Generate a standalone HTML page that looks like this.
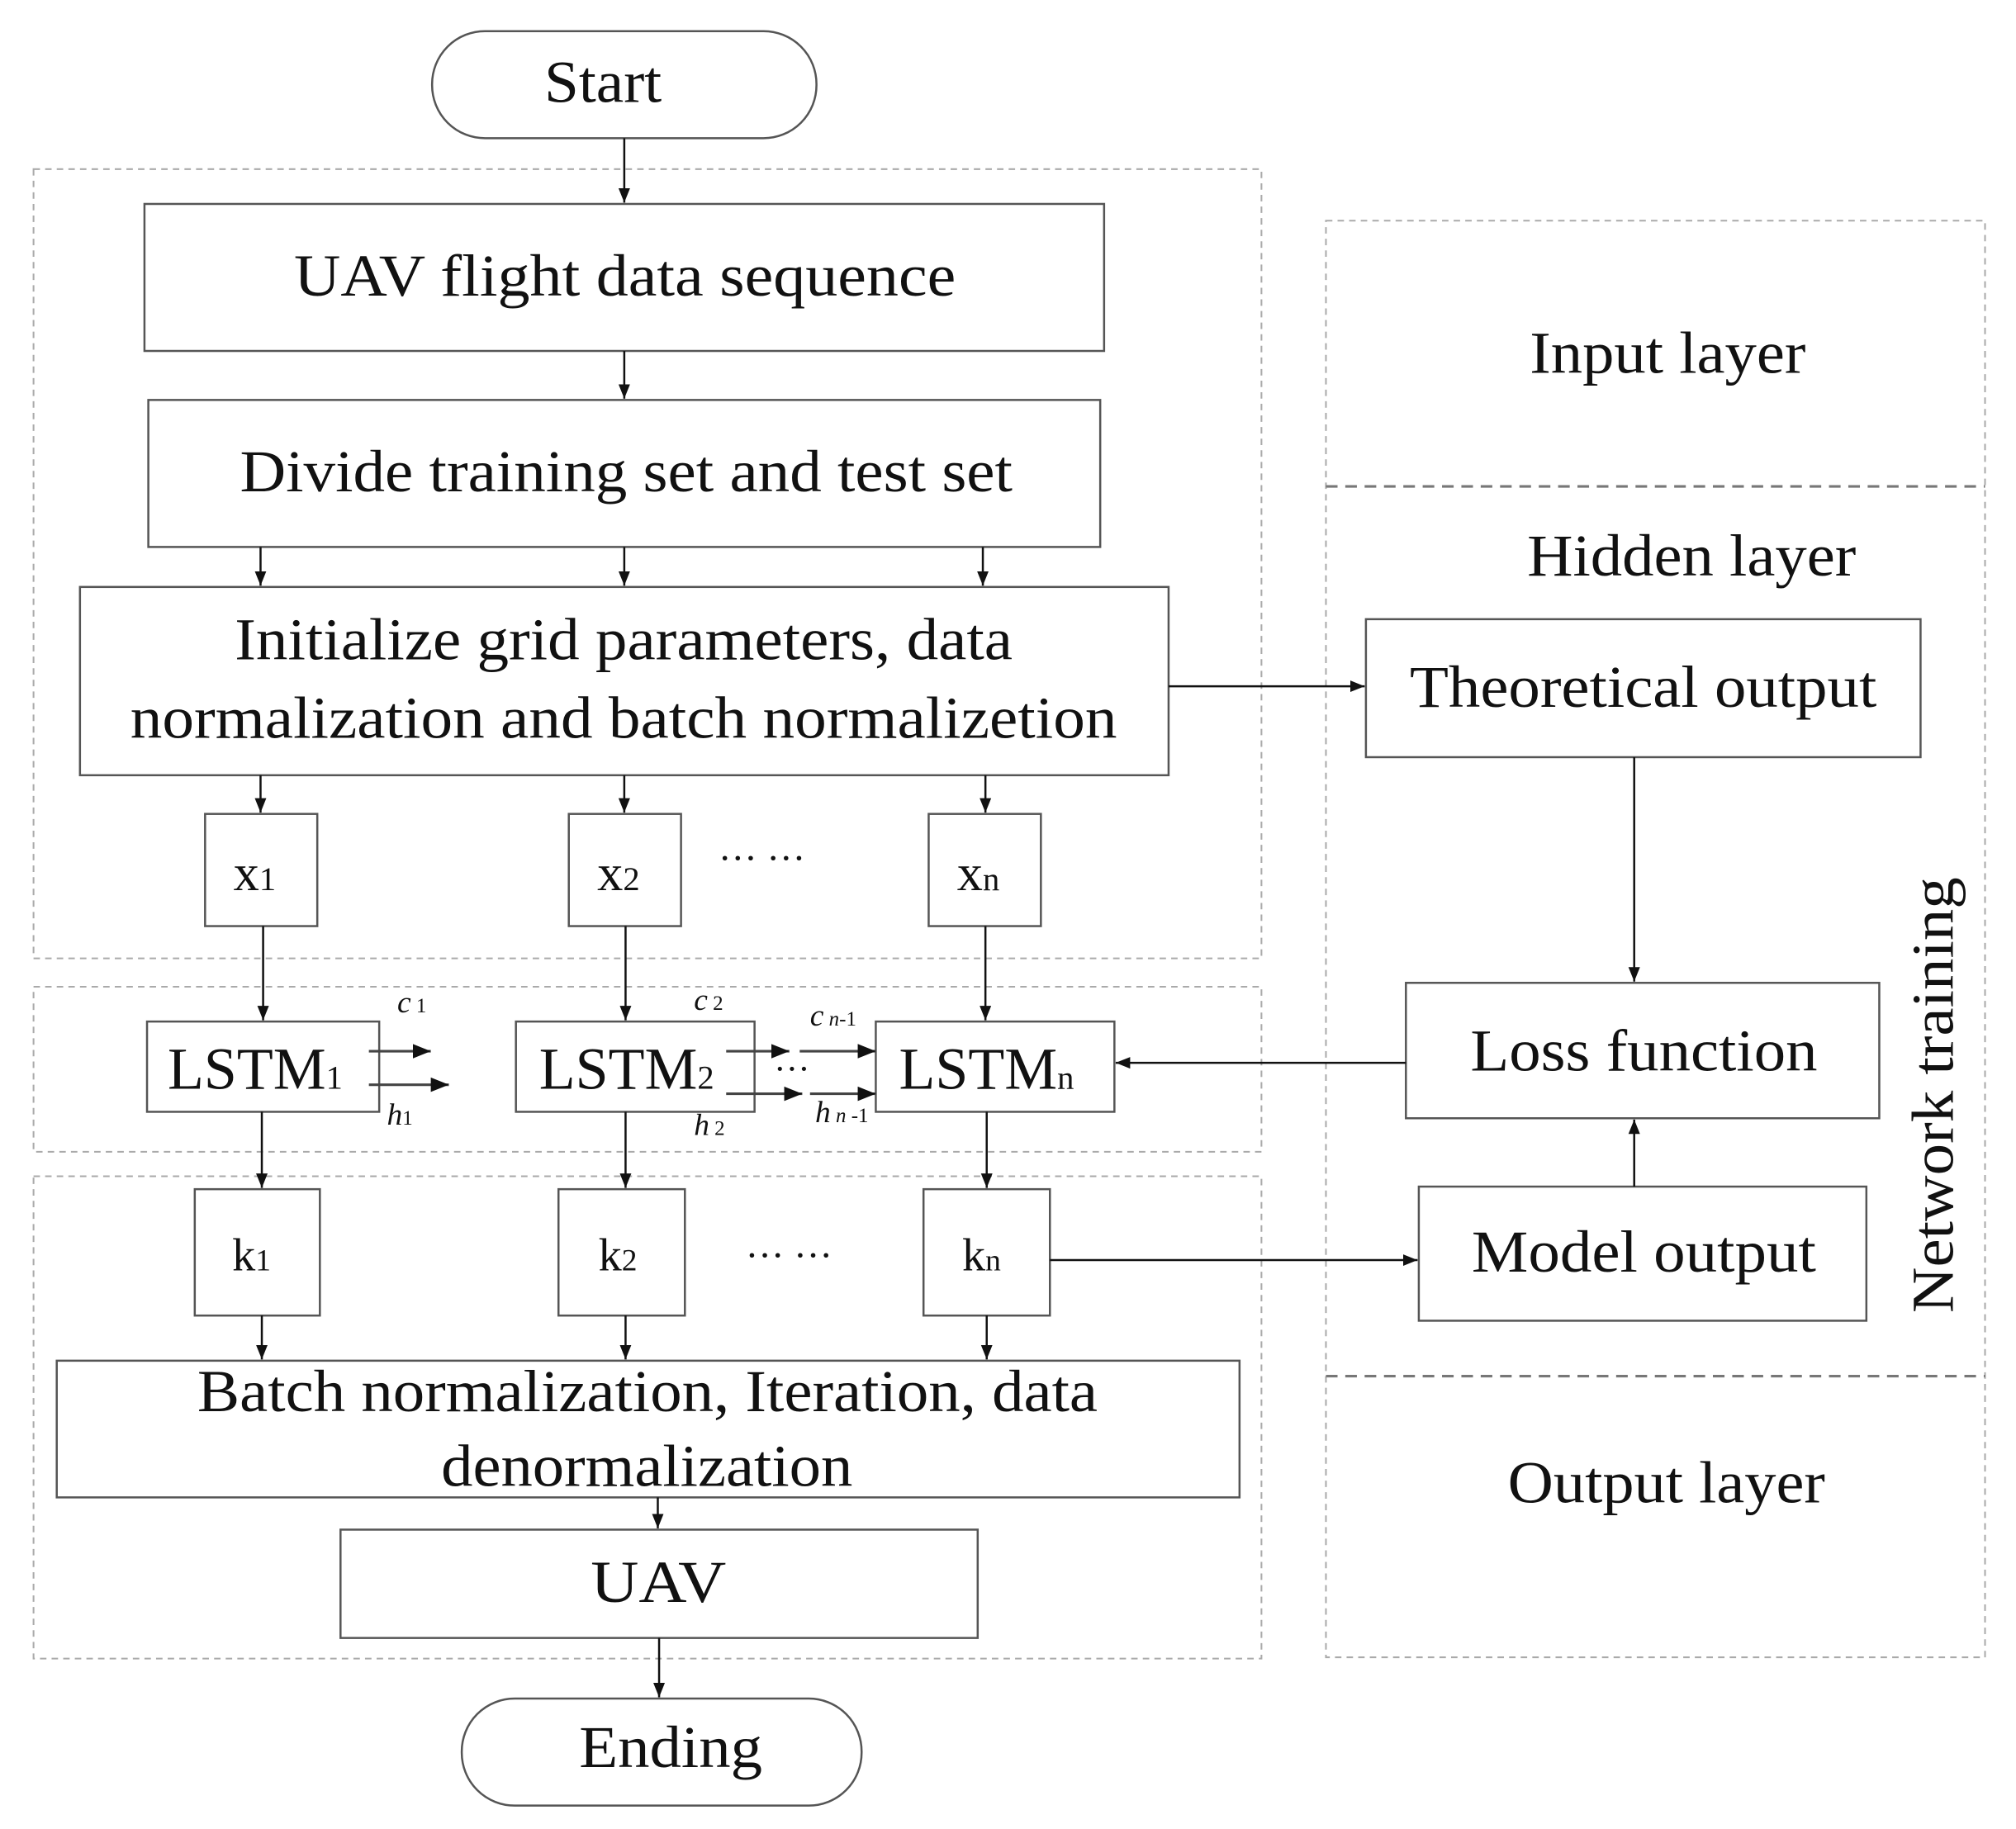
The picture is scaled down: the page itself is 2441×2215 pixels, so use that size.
<!DOCTYPE html>
<html><head><meta charset="utf-8"><style>
html,body{margin:0;padding:0;background:#fff;}
svg{display:block;}
text{font-family:"Liberation Serif",serif;fill:#111;}
</style></head><body>
<svg width="2441" height="2215" viewBox="0 0 1563 1418" xmlns="http://www.w3.org/2000/svg">
<defs>
<marker id="a" viewBox="0 0 10 10" refX="10" refY="5" markerWidth="7" markerHeight="7" orient="auto"><path d="M0,1 L10,5 L0,9 z" fill="#111"/></marker>
</defs>
<g fill="none" stroke="#aaa" stroke-width="1.3" stroke-dasharray="5,4">
<rect x="26" y="131" width="952" height="612"/>
<rect x="26" y="765" width="952" height="128"/>
<rect x="26" y="912" width="952" height="374"/>
<rect x="1028" y="171" width="511" height="1114"/>
</g>
<g stroke="#777" stroke-width="2" stroke-dasharray="9,6">
<line x1="1028" y1="377" x2="1539" y2="377"/>
<line x1="1028" y1="1067" x2="1539" y2="1067"/>
</g>
<g fill="#fff" stroke="#555" stroke-width="1.6">
<rect x="335" y="24" width="298" height="83" rx="41"/>
<rect x="112" y="158" width="744" height="114"/>
<rect x="115" y="310" width="738" height="114"/>
<rect x="62" y="455" width="844" height="146"/>
<rect x="159" y="631" width="87" height="87"/>
<rect x="441" y="631" width="87" height="87"/>
<rect x="720" y="631" width="87" height="87"/>
<rect x="114" y="792" width="180" height="70"/>
<rect x="400" y="792" width="185" height="70"/>
<rect x="679" y="792" width="185" height="70"/>
<rect x="151" y="922" width="97" height="98"/>
<rect x="433" y="922" width="98" height="98"/>
<rect x="716" y="922" width="98" height="98"/>
<rect x="44" y="1055" width="917" height="106"/>
<rect x="264" y="1186" width="494" height="84"/>
<rect x="358" y="1317" width="310" height="83" rx="41"/>
<rect x="1059" y="480" width="430" height="107"/>
<rect x="1090" y="762" width="367" height="105"/>
<rect x="1100" y="920" width="347" height="104"/>
</g>
<g stroke="#111" stroke-width="1.6" marker-end="url(#a)">
<line x1="484" y1="107" x2="484" y2="157"/>
<line x1="484" y1="272" x2="484" y2="309"/>
<line x1="202" y1="424" x2="202" y2="454"/>
<line x1="484" y1="424" x2="484" y2="454"/>
<line x1="762" y1="424" x2="762" y2="454"/>
<line x1="202" y1="601" x2="202" y2="630"/>
<line x1="484" y1="601" x2="484" y2="630"/>
<line x1="764" y1="601" x2="764" y2="630"/>
<line x1="204" y1="718" x2="204" y2="791"/>
<line x1="485" y1="718" x2="485" y2="791"/>
<line x1="764" y1="718" x2="764" y2="791"/>
<line x1="203" y1="862" x2="203" y2="921"/>
<line x1="485" y1="862" x2="485" y2="921"/>
<line x1="765" y1="862" x2="765" y2="921"/>
<line x1="203" y1="1020" x2="203" y2="1054"/>
<line x1="485" y1="1020" x2="485" y2="1054"/>
<line x1="765" y1="1020" x2="765" y2="1054"/>
<line x1="510" y1="1161" x2="510" y2="1185"/>
<line x1="511" y1="1270" x2="511" y2="1316"/>
<line x1="906" y1="532" x2="1058" y2="532"/>
<line x1="1267" y1="587" x2="1267" y2="761"/>
<line x1="1090" y1="824" x2="865" y2="824"/>
<line x1="1267" y1="920" x2="1267" y2="868"/>
<line x1="814" y1="977" x2="1099" y2="977"/>
</g>
<g stroke="#444" stroke-width="2" marker-end="url(#a)">
<line x1="286" y1="815" x2="334" y2="815"/>
<line x1="286" y1="841" x2="348" y2="841"/>
<line x1="563" y1="815" x2="612" y2="815"/>
<line x1="563" y1="848" x2="622" y2="848"/>
<line x1="620" y1="815" x2="679" y2="815"/>
<line x1="628" y1="848" x2="679" y2="848"/>
</g>
<g font-size="46" lengthAdjust="spacingAndGlyphs">
<text x="422" y="79" textLength="91" lengthAdjust="spacingAndGlyphs">Start</text>
<text x="228" y="229" textLength="513" lengthAdjust="spacingAndGlyphs">UAV flight data sequence</text>
<text x="186" y="381" textLength="599" lengthAdjust="spacingAndGlyphs">Divide training set and test set</text>
<text x="182" y="511" textLength="603" lengthAdjust="spacingAndGlyphs">Initialize grid parameters, data</text>
<text x="101" y="572" textLength="765" lengthAdjust="spacingAndGlyphs">normalization and batch normalizetion</text>
<text x="153" y="1094" textLength="698" lengthAdjust="spacingAndGlyphs">Batch normalization, Iteration, data</text>
<text x="342" y="1152" textLength="319" lengthAdjust="spacingAndGlyphs">denormalization</text>
<text x="458" y="1242" textLength="105" lengthAdjust="spacingAndGlyphs">UAV</text>
<text x="449" y="1370" textLength="142" lengthAdjust="spacingAndGlyphs">Ending</text>
<text x="1093" y="548" textLength="362" lengthAdjust="spacingAndGlyphs">Theoretical output</text>
<text x="1140" y="830" textLength="269" lengthAdjust="spacingAndGlyphs">Loss function</text>
<text x="1141" y="986" textLength="267" lengthAdjust="spacingAndGlyphs">Model output</text>
<text x="1186" y="289" textLength="214" lengthAdjust="spacingAndGlyphs">Input layer</text>
<text x="1184" y="446" textLength="255" lengthAdjust="spacingAndGlyphs">Hidden layer</text>
<text x="1169" y="1165" textLength="246" lengthAdjust="spacingAndGlyphs">Output layer</text>
<text transform="translate(1514,1018) rotate(-90)" textLength="338" lengthAdjust="spacingAndGlyphs">Network training</text>
</g>
<g font-size="40">
<text x="181" y="690">x<tspan font-size="26">1</tspan></text>
<text x="463" y="690">x<tspan font-size="26">2</tspan></text>
<text x="742" y="690">x<tspan font-size="26">n</tspan></text>
<text x="130" y="844" font-size="46">LSTM<tspan font-size="26">1</tspan></text>
<text x="418" y="844" font-size="46">LSTM<tspan font-size="26">2</tspan></text>
<text x="697" y="844" font-size="46">LSTM<tspan font-size="26">n</tspan></text>
<text x="180" y="985" font-family="Liberation Sans,sans-serif" font-size="36">k<tspan font-size="24">1</tspan></text>
<text x="464" y="985" font-family="Liberation Sans,sans-serif" font-size="36">k<tspan font-size="24">2</tspan></text>
<text x="746" y="985" font-family="Liberation Sans,sans-serif" font-size="36">k<tspan font-size="24">n</tspan></text>
<text x="557" y="675" font-size="30">···  ···</text>
<text x="578" y="983" font-size="30">···  ···</text>
<text x="600" y="838" font-size="28">···</text>
</g>
<g font-size="24" font-style="italic">
<text x="308" y="785">c<tspan font-size="16" font-style="normal"> 1</tspan></text>
<text x="300" y="872">h<tspan font-size="16" font-style="normal">1</tspan></text>
<text x="538" y="783">c<tspan font-size="16" font-style="normal"> 2</tspan></text>
<text x="538" y="880">h<tspan font-size="16" font-style="normal"> 2</tspan></text>
<text x="628" y="795">c<tspan font-size="16"> n</tspan><tspan font-size="16" font-style="normal">-1</tspan></text>
<text x="632" y="870">h<tspan font-size="16"> n</tspan><tspan font-size="16" font-style="normal"> -1</tspan></text>
</g>
</svg>
</body></html>
